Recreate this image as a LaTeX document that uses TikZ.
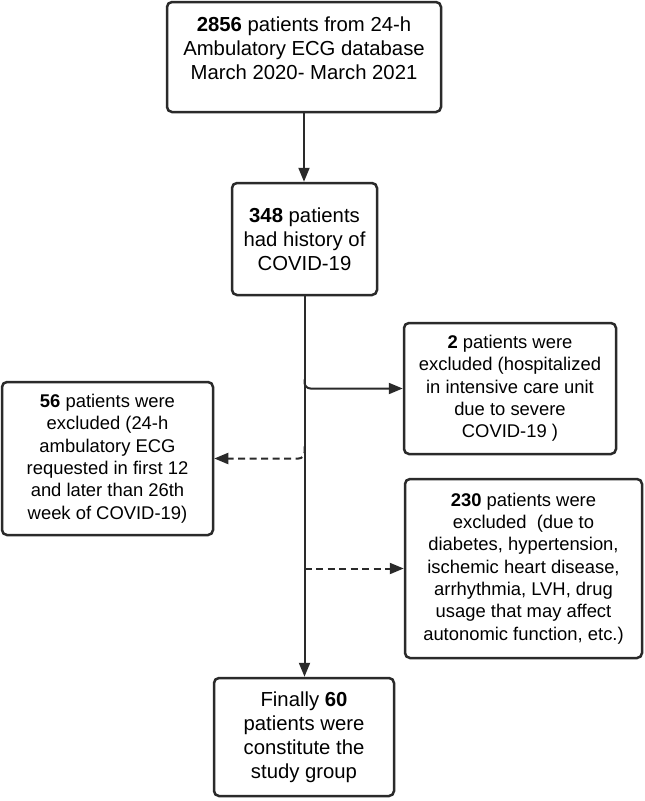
\documentclass[tikz,border=0pt]{standalone}
\usepackage{fontspec}
\setmainfont{Liberation Sans}
\usetikzlibrary{arrows.meta}
\definecolor{ln}{HTML}{2A2A2A}
\begin{document}
\begin{tikzpicture}[x=1pt,y=-1pt,
  box/.style={draw=ln, line width=2.5pt, rounded corners=5pt, align=center, inner sep=0pt},
  big/.style={font=\fontsize{20.3}{24}\selectfont},
  small/.style={font=\fontsize{18.4}{22.3}\selectfont},
  conn/.style={draw=ln, line width=2pt, -{Triangle[length=14pt,width=11pt]}},
  dsh/.style={conn, dash pattern=on 7pt off 4.5pt}]
\path[use as bounding box] (0,0) rectangle (645,801);

\node[box, minimum width=274pt, minimum height=110pt,
  label={[big,align=center,yshift=9pt]center:{\textbf{2856} patients from 24-h\\Ambulatory ECG database\\March 2020- March 2021}}] (src) at (304,57) {};
\node[box, big, minimum width=145pt, minimum height=112pt] (hist) at (304.5,239) {\textbf{348} patients\\had history of\\COVID-19};
\node[box, small, minimum width=212pt, minimum height=131pt] (ex1) at (510,388.5) {\textbf{2} patients were\\excluded (hospitalized\\in intensive care unit\\due to severe\\COVID-19 )};
\node[box, small, minimum width=211pt, minimum height=153pt] (ex2) at (107.5,458.5) {\textbf{56} patients were\\excluded (24-h\\ambulatory ECG\\requested in first 12\\and later than 26th\\week of COVID-19)};
\node[box, small, minimum width=237pt, minimum height=179pt] (ex3) at (523.5,568.5) {\textbf{230} patients were\\excluded\ \ (due to\\diabetes, hypertension,\\ischemic heart disease,\\arrhythmia, LVH, drug\\usage that may affect\\autonomic function, etc.)};
\node[box, big, minimum width=180pt, minimum height=118pt] (fin) at (304,737) {Finally \textbf{60}\\patients were\\constitute the\\study group};

\path (hist.south) ++(0,83) coordinate (j1);
\path (hist.south) ++(0,150) coordinate (j2);

\draw[conn] (src.south) -- (src.south |- hist.north);
\draw[conn] (hist.south) -- (hist.south |- fin.north);
\draw[conn, rounded corners=6pt] (j1) |- (ex1.west);
\draw[dsh, rounded corners=6pt] (j2) |- (ex2.east);
\draw[dsh] (hist.south |- ex3.west) -- (ex3.west);
\end{tikzpicture}
\end{document}
